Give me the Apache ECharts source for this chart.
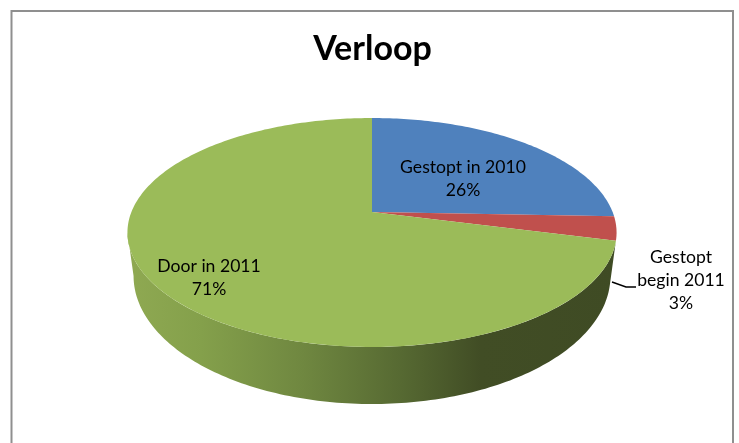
<!DOCTYPE html>
<html>
<head>
<meta charset="utf-8">
<style>html,body{margin:0;padding:0;background:#fff;overflow:hidden}#c{width:739px;height:443px}</style>
<script src="https://cdn.jsdelivr.net/npm/echarts@6/dist/echarts.min.js"></script>
</head>
<body>
<div id="c"></div>
<script>
const titleText = 'Verloop';
const categories = ['Gestopt in 2010', 'Gestopt\nbegin 2011', 'Door in 2011'];
const values = [25.6, 3.4, 71];
const faceColors = ['#4f81bd', '#c0504d', '#9bbb59'];

const total = values.reduce((a, b) => a + b, 0);

// projection of the tilted disc
const P = { cx: 372, apexY: 212, B: 240.6, A: 110.8, persp: -0.179 };
const BOTTOM = { y: 253, A: 124, scaleX: 0.975 };
const FRONT_END = 259.7;             // leftmost visible rim angle, degrees clockwise from 12 o'clock
const labelAnchor = [[463, 167], [681, 257], [209, 266]];
const LINE_H = 23;
const leader = [[612, 282], [626, 287], [636, 287]];

function rim(deg) {
  const t = deg * Math.PI / 180, u = Math.sin(t), v = -Math.cos(t), w = 1 + P.persp * v;
  return [P.cx + P.B * u / w, P.apexY + P.A * v / w];
}
function rimBottom(deg) {
  const t = deg * Math.PI / 180, u = Math.sin(t), v = -Math.cos(t), w = 1 + P.persp * v;
  return [P.cx + BOTTOM.scaleX * P.B * u / w, BOTTOM.y + BOTTOM.A * v / w];
}
function arc(fn, a, b) {
  const pts = [], n = Math.max(2, Math.ceil(Math.abs(b - a)));
  for (let i = 0; i <= n; i++) pts.push(fn(a + (b - a) * i / n));
  return pts;
}

const wallGradient = new echarts.graphic.LinearGradient(128, 0, 617, 0, [
  { offset: 0, color: '#8fa952' },
  { offset: 0.15, color: '#84a04b' },
  { offset: 0.36, color: '#6f8740' },
  { offset: 0.56, color: '#566932' },
  { offset: 0.72, color: '#414d25' },
  { offset: 1, color: '#3f4b24' }
], true);

const startAngles = [];
values.reduce((acc, v, i) => { startAngles[i] = acc; return acc + v / total * 360; }, 0);

function renderItem(params, api) {
  const i = params.dataIndex;
  const a = startAngles[i], b = a + values[i] / total * 360;
  const children = [];
  if (i === values.length - 1) {
    const top = arc(rim, a, FRONT_END);
    const bot = arc(rimBottom, FRONT_END, a);
    children.push({ type: 'polygon', shape: { points: top.concat(bot) }, style: { fill: wallGradient } });
  }
  children.push({
    type: 'polygon',
    shape: { points: [[P.cx, P.apexY]].concat(arc(rim, a, b)) },
    style: { fill: faceColors[i] }
  });
  const pct = Math.round(values[i] / total * 100) + '%';
  categories[i].split('\n').concat(pct).forEach((line, k) => {
    children.push({
      type: 'text', z2: 10,
      style: {
        text: line, x: labelAnchor[i][0], y: labelAnchor[i][1] + k * LINE_H,
        align: 'center', verticalAlign: 'middle',
        font: '17.6px Lato', fill: '#000'
      }
    });
  });
  return { type: 'group', children };
}

const chart = echarts.init(document.getElementById('c'), null, { renderer: 'canvas' });
chart.setOption({
  animation: false,
  backgroundColor: '#fff',
  tooltip: { show: false },
  title: {
    text: titleText, left: 367.5, top: 27, textAlign: 'center',
    textStyle: { fontFamily: 'Lato', fontWeight: 'bold', fontSize: 34, color: '#000' }
  },
  graphic: [
    { type: 'polyline', silent: true, z: 0,
      shape: { points: [[11.5, 443], [11.5, 11], [733, 11], [733, 443]] },
      style: { fill: null, stroke: '#8f8f8f', lineWidth: 2 } },
    { type: 'polyline', silent: true, z: 10,
      shape: { points: leader },
      style: { fill: null, stroke: '#000', lineWidth: 1.4 } }
  ],
  series: [{
    type: 'custom', coordinateSystem: 'none', silent: true,
    data: values, renderItem
  }]
});
</script>
</body>
</html>
